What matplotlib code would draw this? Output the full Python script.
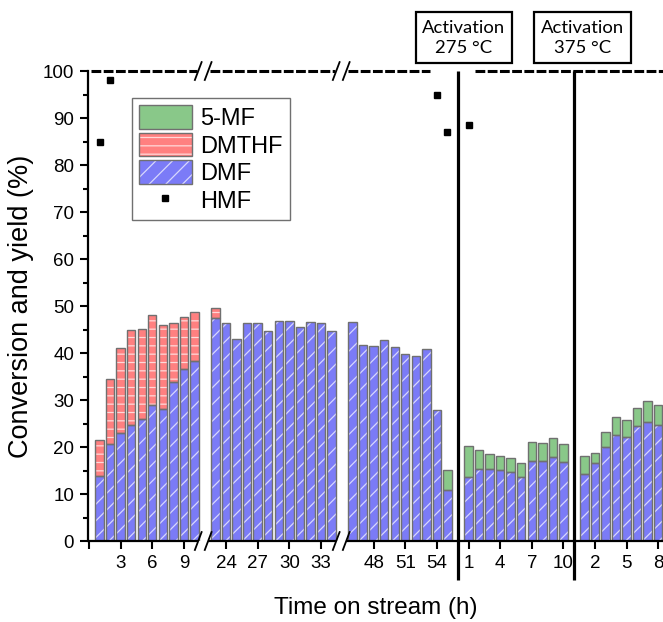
import numpy as np
import matplotlib.pyplot as plt
from matplotlib.patches import Patch, Rectangle
from matplotlib.lines import Line2D

plt.rcParams['font.family'] = ['Liberation Sans', 'DejaVu Sans']
plt.rcParams['hatch.linewidth'] = 0.9

# time on stream (h) for each block of the run
hours_1 = [1, 2, 3, 4, 5, 6, 7, 8, 9, 10]
hours_2 = [23, 24, 25, 26, 27, 28, 29, 30, 31, 32, 33, 34]
hours_3 = [46, 47, 48, 49, 50, 51, 52, 53, 54, 55]
hours_4 = [1, 2, 3, 4, 5, 6, 7, 8, 9, 10]   # after activation at 275 C
hours_5 = [1, 2, 3, 4, 5, 6, 7, 8]          # after activation at 375 C

# yields (%)
dmf_1 = [13.9, 20.6, 22.9, 24.6, 26.0, 29.0, 28.1, 33.9, 36.7, 38.4]
dmthf_1 = [7.5, 13.9, 18.1, 20.3, 19.2, 19.0, 17.8, 12.5, 10.9, 10.4]
mf_1 = [0, 0, 0, 0, 0, 0, 0, 0, 0, 0]

dmf_2 = [47.5, 46.4, 43.0, 46.4, 46.3, 44.7, 46.9, 46.8, 45.6, 46.5, 46.4, 44.7]
dmthf_2 = [2.1, 0, 0, 0, 0, 0, 0, 0, 0, 0, 0, 0]
mf_2 = [0, 0, 0, 0, 0, 0, 0, 0, 0, 0, 0, 0]

dmf_3 = [46.6, 41.8, 41.5, 42.8, 41.2, 39.8, 39.3, 40.9, 27.8, 10.8]
dmthf_3 = [0, 0, 0, 0, 0, 0, 0, 0, 0, 0]
mf_3 = [0, 0, 0, 0, 0, 0, 0, 0, 0, 4.4]

dmf_4 = [13.7, 15.3, 15.3, 15.1, 14.6, 13.7, 17.0, 17.0, 17.8, 16.8]
dmthf_4 = [0, 0, 0, 0, 0, 0, 0, 0, 0, 0]
mf_4 = [6.6, 4.0, 3.3, 2.9, 3.0, 3.0, 4.0, 3.9, 4.2, 3.9]

dmf_5 = [14.2, 16.6, 20.1, 22.5, 22.1, 24.4, 25.3, 24.6]
dmthf_5 = [0, 0, 0, 0, 0, 0, 0, 0]
mf_5 = [3.8, 2.2, 3.2, 3.8, 3.7, 3.8, 4.5, 4.3]

# HMF conversion where it is below 100 % (block, hour, value)
hmf_block = [1, 1, 3, 3, 4]
hmf_hour = [1, 2, 54, 55, 1]
hmf_val = [85, 98, 95, 87, 88.5]

# tick labels per block
ticks_1 = [3, 6, 9]
ticks_2 = [24, 27, 30, 33]
ticks_3 = [48, 51, 54]
ticks_4 = [1, 4, 7, 10]
ticks_5 = [2, 5, 8]

# shift of each block on the broken axis
offsets = [0, -11, -21, 35, 46]

blocks = [
    (hours_1, dmf_1, dmthf_1, mf_1, ticks_1),
    (hours_2, dmf_2, dmthf_2, mf_2, ticks_2),
    (hours_3, dmf_3, dmthf_3, mf_3, ticks_3),
    (hours_4, dmf_4, dmthf_4, mf_4, ticks_4),
    (hours_5, dmf_5, dmthf_5, mf_5, ticks_5),
]

blue = '#7b7bf7'
red = '#ff8080'
green = '#89c889'
edge = '#707070'
white_hatch = (1, 1, 1, 0.7)
width = 0.8

fig = plt.figure(figsize=(6.63, 6.22), dpi=100)
ax = fig.add_axes([0.1327, 0.1302, 0.8673, 0.7556])

x_all, dmf_all, dmthf_all, mf_all = [], [], [], []
tick_pos, tick_lab = [0], ['']
for (hours, dmf, dmthf, mf, ticks), off in zip(blocks, offsets):
    x_all += [h + off for h in hours]
    dmf_all += dmf
    dmthf_all += dmthf
    mf_all += mf
    tick_pos += [t + off for t in ticks]
    tick_lab += [str(t) for t in ticks]

x_all = np.array(x_all, dtype=float)
dmf_all = np.array(dmf_all)
dmthf_all = np.array(dmthf_all)
mf_all = np.array(mf_all)

layers = [
    (dmf_all, np.zeros_like(dmf_all), blue, '//'),
    (dmthf_all, dmf_all, red, '--'),
    (mf_all, dmf_all + dmthf_all, green, None),
]
for vals, bottom, col, hatch in layers:
    m = vals > 0
    ax.bar(x_all[m], vals[m], bottom=bottom[m], width=width, color=col,
           hatch=hatch, edgecolor=white_hatch, linewidth=0, zorder=2)
    ax.bar(x_all[m], vals[m], bottom=bottom[m], width=width, fill=False,
           edgecolor=edge, linewidth=1.0, zorder=3)

hmf_x = [h + offsets[b - 1] for b, h in zip(hmf_block, hmf_hour)]
ax.plot(hmf_x, hmf_val, 's', color='k', ms=5, zorder=4, clip_on=False)

ax.set_xlim(-0.1, 54.45)
ax.set_ylim(0, 100)
ax.set_xticks(tick_pos)
ax.set_xticklabels(tick_lab)
ax.set_yticks(np.arange(0, 101, 10))
ax.set_yticks(np.arange(5, 100, 10), minor=True)
ax.tick_params(axis='both', which='major', direction='out', length=6,
               width=1.5, labelsize=13.5, pad=4)
ax.tick_params(axis='y', which='minor', direction='out', length=3.5, width=1.5)

for s in ['top', 'right', 'bottom']:
    ax.spines[s].set_visible(False)
ax.spines['left'].set_linewidth(1.6)

# broken bottom axis and the dashed 100 % line on top
for a, b in [(-0.1, 10.36), (11.30, 23.45), (24.40, 54.45)]:
    ax.plot([a, b], [0, 0], color='k', lw=1.6, clip_on=False, zorder=5,
            solid_capstyle='butt')
for a, b in [(0.2, 10.2), (11.5, 23.3), (24.6, 32.3), (36.6, 54.45)]:
    ax.plot([a, b], [100, 100], color='k', lw=2.2, dashes=(3.2, 0.8),
            clip_on=False, zorder=5)
for xb in [10.36, 11.30, 23.45, 24.40]:
    for yb in [0, 100]:
        ax.plot([xb - 0.32, xb + 0.32], [yb - 1.9, yb + 1.9], color='k',
                lw=1.3, clip_on=False, zorder=6)

# activation lines
ax.vlines([35, 46], -8.3, 100, color='k', lw=2.3, clip_on=False, zorder=6)

ax.set_xlabel('Time on stream (h)', fontsize=17.5, labelpad=18)
ax.set_ylabel('Conversion and yield (%)', fontsize=19.5, labelpad=6)

# activation boxes
for cx, label in [(464, 'Activation\n275 \u00b0C'), (582.3, 'Activation\n375 \u00b0C')]:
    fig.patches.append(Rectangle(((cx - 48.3) / 663, 1 - 63.3 / 622),
                                 96.6 / 663, 51 / 622, transform=fig.transFigure,
                                 fill=False, edgecolor='k', lw=1.6))
    fig.text(cx / 663, 1 - 38 / 622, label, ha='center', va='center',
             fontsize=13.3, family=['Lato', 'DejaVu Sans'], linespacing=1.25)

handles = [
    (Patch(facecolor=green, edgecolor='none', linewidth=0),
     Patch(fill=False, edgecolor=edge, linewidth=1.0)),
    (Patch(facecolor=red, hatch='--', edgecolor=white_hatch, linewidth=0),
     Patch(fill=False, edgecolor=edge, linewidth=1.0)),
    (Patch(facecolor=blue, hatch='//', edgecolor=white_hatch, linewidth=0),
     Patch(fill=False, edgecolor=edge, linewidth=1.0)),
    Line2D([], [], marker='s', color='k', ls='none', ms=5),
]
labels = ['5-MF', 'DMTHF', 'DMF', 'HMF']
leg = ax.legend(handles, labels, loc='upper left', bbox_to_anchor=(0.076, 0.942),
                fontsize=17, handlelength=2.25, handleheight=1.15,
                labelspacing=0.12, borderpad=0.3, handletextpad=0.35,
                borderaxespad=0, fancybox=False, framealpha=1, edgecolor='#707070')
leg.get_frame().set_linewidth(1.0)

plt.savefig('out.png', dpi=100)
